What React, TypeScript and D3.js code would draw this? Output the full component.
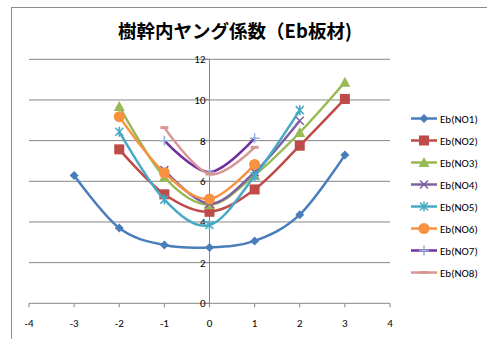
import React from "react";
import * as d3 from "d3";

const title = "樹幹内ヤング係数（Eb板材)";
const xTicks = [-4, -3, -2, -1, 0, 1, 2, 3, 4];
const yTicks = [0, 2, 4, 6, 8, 10, 12];

const no1X = [-3, -2, -1, 0, 1, 2, 3];
const no1Y = [6.28, 3.7, 2.87, 2.75, 3.07, 4.36, 7.29];
const no2X = [-2, -1, 0, 1, 2, 3];
const no2Y = [7.57, 5.36, 4.5, 5.6, 7.75, 10.05];
const no3X = [-2, -1, 0, 1, 2, 3];
const no3Y = [9.68, 6.2, 4.85, 6.3, 8.4, 10.87];
const no4X = [-1, 0, 1, 2];
const no4Y = [6.55, 4.9, 6.45, 8.98];
const no5X = [-2, -1, 0, 1, 2];
const no5Y = [8.44, 5.1, 3.85, 6.26, 9.5];
const no6X = [-2, -1, 0, 1];
const no6Y = [9.18, 6.42, 5.13, 6.83];
const no7X = [-1, 0, 1];
const no7Y = [8.0, 6.45, 8.12];
const no8X = [-1, 0, 1];
const no8Y = [8.64, 6.36, 7.67];

const seriesNames = ["Eb(NO1)", "Eb(NO2)", "Eb(NO3)", "Eb(NO4)", "Eb(NO5)", "Eb(NO6)", "Eb(NO7)", "Eb(NO8)"];

type Marker = "diamond" | "square" | "triangle" | "x" | "star" | "circle" | "plus" | "dash";

const series = [
  { name: seriesNames[0], xs: no1X, ys: no1Y, color: "#4A7EBB", marker: "diamond" as Marker, mcolor: "#4A7EBB" },
  { name: seriesNames[1], xs: no2X, ys: no2Y, color: "#BE4B48", marker: "square" as Marker, mcolor: "#BE4B48" },
  { name: seriesNames[2], xs: no3X, ys: no3Y, color: "#98B954", marker: "triangle" as Marker, mcolor: "#98B954" },
  { name: seriesNames[3], xs: no4X, ys: no4Y, color: "#7D60A0", marker: "x" as Marker, mcolor: "#7D60A0" },
  { name: seriesNames[4], xs: no5X, ys: no5Y, color: "#46AAC5", marker: "star" as Marker, mcolor: "#46AAC5" },
  { name: seriesNames[5], xs: no6X, ys: no6Y, color: "#F69240", marker: "circle" as Marker, mcolor: "#F69240" },
  { name: seriesNames[6], xs: no7X, ys: no7Y, color: "#7030A0", marker: "plus" as Marker, mcolor: "#95B3D7" },
  { name: seriesNames[7], xs: no8X, ys: no8Y, color: "#D99694", marker: "dash" as Marker, mcolor: "#D99694" },
];

function MarkerShape({ type, cx, cy, color }: { type: Marker; cx: number; cy: number; color: string }) {
  const s = 4.5;
  switch (type) {
    case "diamond":
      return <path d={`M${cx},${cy - s}L${cx + s},${cy}L${cx},${cy + s}L${cx - s},${cy}Z`} fill={color} />;
    case "square":
      return <rect x={cx - 5} y={cy - 5} width={10} height={10} fill={color} />;
    case "triangle":
      return <path d={`M${cx},${cy - 5.5}L${cx + 5.5},${cy + 4.5}L${cx - 5.5},${cy + 4.5}Z`} fill={color} />;
    case "x":
      return <path d={`M${cx - 4},${cy - 4}L${cx + 4},${cy + 4}M${cx - 4},${cy + 4}L${cx + 4},${cy - 4}`} stroke={color} strokeWidth={1.5} />;
    case "star":
      return (
        <path
          d={`M${cx - 4},${cy - 4}L${cx + 4},${cy + 4}M${cx - 4},${cy + 4}L${cx + 4},${cy - 4}M${cx},${cy - 5}L${cx},${cy + 5}`}
          stroke={color}
          strokeWidth={1.5}
        />
      );
    case "circle":
      return <circle cx={cx} cy={cy} r={5.5} fill={color} />;
    case "plus":
      return <path d={`M${cx - 5},${cy}L${cx + 5},${cy}M${cx},${cy - 5}L${cx},${cy + 5}`} stroke={color} strokeWidth={1.5} />;
    case "dash":
      return <path d={`M${cx - 4},${cy}L${cx + 4},${cy}`} stroke={color} strokeWidth={3} />;
  }
  return null;
}

export default function App() {
  const W = 487;
  const H = 339;
  const x = d3.scaleLinear().domain([-4, 4]).range([29, 390]);
  const y = d3.scaleLinear().domain([0, 12]).range([303.3, 59.3]);
  const line = d3
    .line<[number, number]>()
    .x((d) => x(d[0]))
    .y((d) => y(d[1]))
    .curve(d3.curveCatmullRom.alpha(0));
  const font = "Calibri, Carlito, 'Liberation Sans', Arial, sans-serif";
  const axisColor = "#868686";

  return (
    <svg
      width={W}
      height={H}
      style={{ position: "absolute", left: 0, top: 0, background: "#fff" }}
      fontFamily={font}
    >
      <rect x={11.5} y={7.5} width={W + 10} height={H + 10} fill="#fff" stroke="#8c8c8c" strokeWidth={1} />
      <text
        x={235}
        y={38}
        textAnchor="middle"
        fontSize={18.5}
        fontWeight="bold"
        fontFamily="'Noto Sans CJK JP', 'Noto Sans', sans-serif"
        fill="#000"
      >
        {title}
      </text>

      {/* gridlines */}
      {yTicks.map((t) => (
        <line key={"g" + t} x1={x(-4)} x2={x(4)} y1={y(t)} y2={y(t)} stroke={axisColor} strokeWidth={1} />
      ))}
      {/* vertical axis at x=0 */}
      <line x1={x(0)} x2={x(0)} y1={y(12)} y2={y(0)} stroke={axisColor} strokeWidth={1} />
      {yTicks.map((t) => (
        <line key={"yt" + t} x1={x(0) - 4} x2={x(0)} y1={y(t)} y2={y(t)} stroke={axisColor} strokeWidth={1} />
      ))}
      {yTicks.map((t) => (
        <text key={"yl" + t} x={x(0) - 4} y={y(t) + 4} textAnchor="end" fontSize={11} fill="#000">
          {t}
        </text>
      ))}
      {/* x axis ticks */}
      {xTicks.map((t) => (
        <line key={"xt" + t} x1={x(t)} x2={x(t)} y1={y(0)} y2={y(0) + 4} stroke={axisColor} strokeWidth={1} />
      ))}
      {xTicks.map((t) => (
        <text key={"xl" + t} x={x(t)} y={y(0) + 24} textAnchor="middle" fontSize={11} fill="#000">
          {t}
        </text>
      ))}

      {/* series */}
      {series.map((s) => {
        const pts = s.xs.map((v, i) => [v, s.ys[i]] as [number, number]);
        return (
          <g key={s.name}>
            <path d={line(pts) || ""} fill="none" stroke={s.color} strokeWidth={2.5} strokeLinejoin="round" />
            {pts.map((p, i) => (
              <MarkerShape key={i} type={s.marker} cx={x(p[0])} cy={y(p[1])} color={s.mcolor} />
            ))}
          </g>
        );
      })}

      {/* legend */}
      {series.map((s, i) => {
        const ly = 118.5 + i * 22;
        return (
          <g key={"lg" + s.name}>
            <line x1={411} x2={437} y1={ly} y2={ly} stroke={s.color} strokeWidth={2.5} />
            <MarkerShape type={s.marker} cx={424} cy={ly} color={s.mcolor} />
            <text x={440} y={ly + 4} fontSize={11} fill="#000">
              {s.name}
            </text>
          </g>
        );
      })}
    </svg>
  );
}
